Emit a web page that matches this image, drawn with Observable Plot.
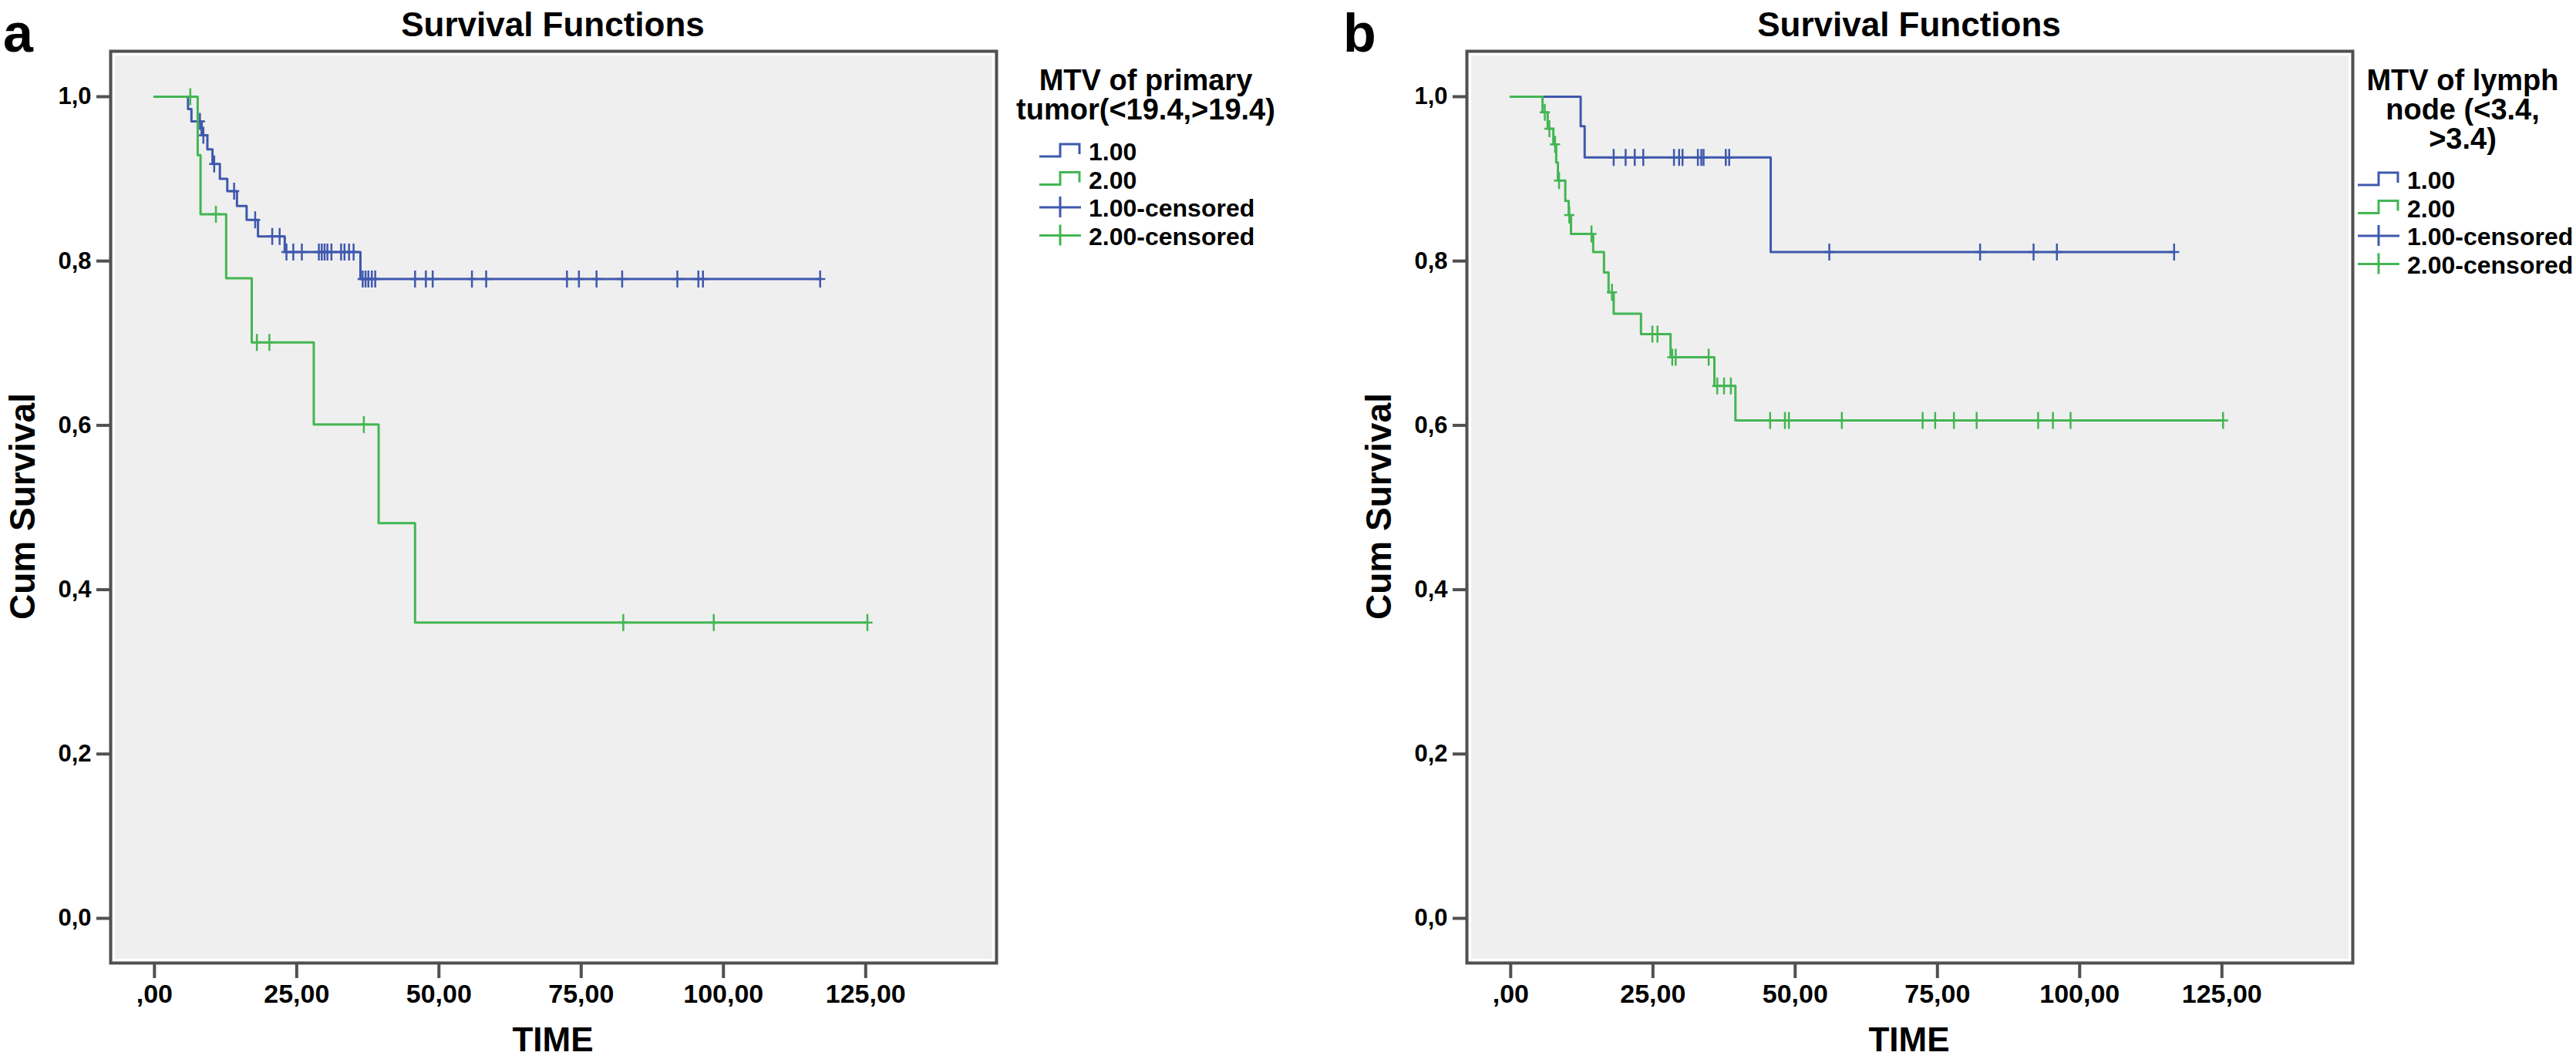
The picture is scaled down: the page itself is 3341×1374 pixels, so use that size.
<!DOCTYPE html>
<html>
<head>
<meta charset="utf-8">
<script src="https://cdn.jsdelivr.net/npm/d3@7"></script>
<script src="https://cdn.jsdelivr.net/npm/@observablehq/plot@0.6"></script>
<style>
  html, body { margin: 0; padding: 0; background: #fff; }
  #root { position: relative; width: 3341px; height: 1374px; overflow: hidden; background: #fff;
          font-family: "Liberation Sans", Arial, sans-serif; }
  #root > svg { position: absolute; top: 0; }
</style>
</head>
<body>
<div id="root"></div>
<script>
// ---------------- DATA ----------------
// Panel a : MTV of primary tumor
const aBlueTime = [0, 5.9, 6.5, 8.3, 9.3, 10.2, 11.5, 12.8, 14.5, 16.2, 18.2, 22.9, 36.2, 117.0];
const aBlueSurv = [1.0, 0.985, 0.970, 0.953, 0.936, 0.918, 0.900, 0.885, 0.867, 0.850, 0.830, 0.811, 0.778, 0.778];
const aBlueCensTime = [8.0, 8.6, 10.5, 14.0, 17.7, 20.7, 22.0,
  23.2, 24.4, 25.9, 28.9, 29.4, 29.9, 30.4, 31.1, 32.8, 33.4, 34.2, 35.0,
  36.6, 37.1, 37.6, 38.2, 38.8, 45.8, 47.7, 48.9, 55.8, 58.3, 72.5, 74.6, 77.7, 82.2, 91.9, 95.6, 96.4, 117.0];
const aBlueCensSurv = [0.970, 0.953, 0.918, 0.885, 0.850, 0.830, 0.830,
  0.811, 0.811, 0.811, 0.811, 0.811, 0.811, 0.811, 0.811, 0.811, 0.811, 0.811, 0.811,
  0.778, 0.778, 0.778, 0.778, 0.778, 0.778, 0.778, 0.778, 0.778, 0.778, 0.778, 0.778, 0.778, 0.778, 0.778, 0.778, 0.778, 0.778];

const aGreenTime = [0, 7.6, 8.1, 12.6, 17.1, 28.0, 39.4, 45.8, 125.3];
const aGreenSurv = [1.0, 0.929, 0.857, 0.779, 0.701, 0.601, 0.481, 0.360, 0.360];
const aGreenCensTime = [6.3, 10.8, 18.0, 20.2, 36.8, 82.4, 98.3, 125.3];
const aGreenCensSurv = [1.0, 0.857, 0.701, 0.701, 0.601, 0.360, 0.360, 0.360];

// Panel b : MTV of lymph node
const bBlueTime = [0, 12.3, 13.0, 45.7, 116.6];
const bBlueSurv = [1.0, 0.964, 0.926, 0.811, 0.811];
const bBlueCensTime = [18.1, 20.2, 21.8, 23.3, 28.7, 29.6, 30.2, 32.9, 33.5, 33.9, 37.8, 38.4,
  56.0, 82.5, 91.9, 96.0, 116.6];
const bBlueCensSurv = [0.926, 0.926, 0.926, 0.926, 0.926, 0.926, 0.926, 0.926, 0.926, 0.926, 0.926, 0.926,
  0.811, 0.811, 0.811, 0.811, 0.811];

const bGreenTime = [0, 5.6, 6.5, 7.5, 8.0, 8.3, 9.6, 10.2, 10.6, 14.5, 16.4, 17.2, 18.1, 22.9, 28.1, 35.8, 39.5, 125.2];
const bGreenSurv = [1.0, 0.981, 0.961, 0.942, 0.920, 0.898, 0.873, 0.856, 0.833, 0.811, 0.786, 0.762, 0.736, 0.711, 0.683, 0.648, 0.606, 0.606];
const bGreenCensTime = [6.0, 6.8, 7.8, 8.5, 10.3, 14.2, 17.8, 24.9, 25.8, 28.4, 29.0, 34.8, 36.3, 37.5, 38.7,
  45.6, 48.2, 48.9, 58.2, 72.4, 74.6, 77.9, 81.9, 92.7, 95.3, 98.4, 125.2];
const bGreenCensSurv = [0.981, 0.961, 0.942, 0.898, 0.856, 0.833, 0.762, 0.711, 0.711, 0.683, 0.683, 0.683, 0.648, 0.648, 0.648,
  0.606, 0.606, 0.606, 0.606, 0.606, 0.606, 0.606, 0.606, 0.606, 0.606, 0.606, 0.606];

const xTicks = [0, 25, 50, 75, 100, 125];
const yTicks = [0, 0.2, 0.4, 0.6, 0.8, 1.0];
const panelTitle = "Survival Functions";
const yLabel = "Cum Survival";
const xLabel = "TIME";
const legendItems = ["1.00", "2.00", "1.00-censored", "2.00-censored"];
const legendTitleA = ["MTV of primary", "tumor(<19.4,>19.4)"];
const legendTitleB = ["MTV of lymph", "node (<3.4,", ">3.4)"];

// ---------------- STYLE ----------------
const BLUE = "#3f58ad";
const GREEN = "#43b653";
const FONT = "'Liberation Sans', Arial, sans-serif";

const zip = (t, s) => t.map((v, i) => ({t: v, s: s[i]}));

// tall "+" used for censored observations
const censorSymbol = {
  draw(ctx, size) {
    const r = Math.sqrt(size / Math.PI);
    ctx.moveTo(0, -r); ctx.lineTo(0, r);
    ctx.moveTo(-r * 0.6, 0); ctx.lineTo(r * 0.6, 0);
  }
};

function panel(blue, green, blueC, greenC, width) {
  return Plot.plot({
    width: width,
    height: 1374,
    marginLeft: 143,
    marginRight: width - 1292,
    marginTop: 66,
    marginBottom: 125,
    style: {background: "transparent", overflow: "visible", fontFamily: FONT},
    x: {domain: [-7.7, 148]},
    y: {domain: [-0.0544, 1.0553]},
    marks: [
      Plot.frame({fill: "#efefef"}),
      Plot.frame({stroke: "#ffffff", strokeWidth: 3, inset: 4}),
      Plot.frame({stroke: "#505050", strokeWidth: 4}),
      Plot.axisY({
        ticks: yTicks, tickSize: 18, tickPadding: 7,
        tickFormat: d => d.toFixed(1).replace(".", ","),
        stroke: "#505050", strokeWidth: 4, fill: "#000",
        fontSize: 31, fontWeight: "bold", label: null
      }),
      Plot.axisX({
        ticks: xTicks, tickSize: 20, tickPadding: 7,
        tickFormat: d => d === 0 ? ",00" : d.toFixed(2).replace(".", ","),
        stroke: "#505050", strokeWidth: 4, fill: "#000",
        fontSize: 34, fontWeight: "bold", label: null
      }),
      Plot.line(blue, {x: "t", y: "s", curve: "step-after", stroke: BLUE, strokeWidth: 3}),
      Plot.dot(blueC, {x: "t", y: "s", symbol: censorSymbol, r: 11, stroke: BLUE, fill: "none", strokeWidth: 2.5}),
      Plot.line(green, {x: "t", y: "s", curve: "step-after", stroke: GREEN, strokeWidth: 3}),
      Plot.dot(greenC, {x: "t", y: "s", symbol: censorSymbol, r: 11, stroke: GREEN, fill: "none", strokeWidth: 2.5})
    ]
  });
}

const root = document.getElementById("root");
const pa = panel(zip(aBlueTime, aBlueSurv), zip(aGreenTime, aGreenSurv),
                 zip(aBlueCensTime, aBlueCensSurv), zip(aGreenCensTime, aGreenCensSurv), 1650);
pa.style.left = "0px";
root.appendChild(pa);
const OXB = 1759;
const pb = panel(zip(bBlueTime, bBlueSurv), zip(bGreenTime, bGreenSurv),
                 zip(bBlueCensTime, bBlueCensSurv), zip(bGreenCensTime, bGreenCensSurv), 3341 - OXB);
pb.style.left = OXB + "px";
root.appendChild(pb);

// ---------------- TEXT + LEGENDS (overlay) ----------------
const svg = d3.select(root).append("svg")
  .attr("width", 3341).attr("height", 1374)
  .style("left", "0px").style("pointer-events", "none")
  .attr("font-family", FONT);

function txt(x, y, s, size, opts = {}) {
  const t = svg.append("text").attr("x", x).attr("y", y).text(s)
    .attr("font-size", size).attr("font-weight", opts.weight || "bold")
    .attr("text-anchor", opts.anchor || "start").attr("fill", "#000");
  if (opts.rotate) t.attr("transform", `rotate(-90 ${x} ${y})`);
  return t;
}

function decorate(ox, letter, letterX, titleLines, legendX, symX, firstBaseline) {
  txt(letterX, 67, letter, 70, {});
  txt(ox + 717, 47, panelTitle, 44, {anchor: "middle"});
  txt(ox + 717, 1364, xLabel, 44, {anchor: "middle"});
  txt(ox + 45, 657, yLabel, 46, {anchor: "middle", rotate: true});
  // legend title
  titleLines.forEach((line, i) => txt(legendX, 117 + i * 38, line, 38, {anchor: "middle"}));
  // legend items
  const colors = [BLUE, GREEN, BLUE, GREEN];
  legendItems.forEach((label, i) => {
    const b = firstBaseline + i * 36.5;
    txt(symX + 64, b, label, 32, {});
    const g = svg.append("g").attr("fill", "none").attr("stroke", colors[i]).attr("stroke-width", 3);
    if (i < 2) {
      g.append("path").attr("d", `M${symX},${b - 5}H${symX + 27}V${b - 21}H${symX + 52}V${b - 8}`);
    } else {
      g.append("path").attr("d", `M${symX},${b - 12}H${symX + 54}M${symX + 27},${b - 26}V${b + 1}`);
    }
  });
}

decorate(0, "a", 4, legendTitleA, 1486, 1348, 208);
decorate(OXB, "b", 1742, legendTitleB, 3194, 3058, 245);
</script>
</body>
</html>
